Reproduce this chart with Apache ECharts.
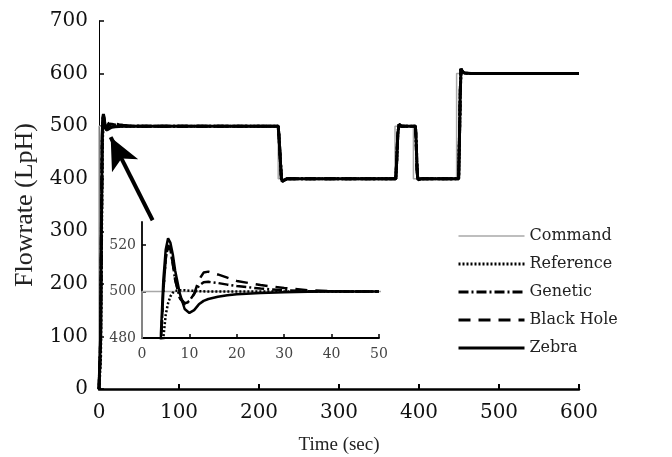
<!DOCTYPE html>
<html>
<head>
<meta charset="utf-8">
<script src="https://cdn.jsdelivr.net/npm/echarts@6/dist/echarts.min.js"></script>
<style>
  html, body { margin: 0; padding: 0; background: #fff; }
  #chart { width: 672px; height: 457px; }
</style>
</head>
<body>
<div id="chart"></div>
<script>
// command step profile
var cmdT = [0, 0, 224, 224, 370, 370, 393, 393, 447, 447, 600];
var cmdV = [0, 500, 500, 400, 400, 500, 500, 400, 400, 600, 600];

// start-up response (0..50 sec)
var earlyT = [0, 2, 3, 4, 4.5, 5, 5.5, 6, 6.5, 7, 8, 9, 10, 11, 12, 13, 14, 16, 18, 20, 25, 30, 35, 40, 45, 50];
var refEarly = [0, 60, 250, 440, 480, 490, 495, 498, 499.5, 500.3, 500.6, 500.6, 500.4, 500.3, 500.2, 500.1, 500, 500, 500, 500, 500, 500, 500, 500, 500, 500];
var genEarly = [0, 90, 290, 478, 500, 514, 520, 518, 512, 505, 497, 494.5, 496, 499, 502.5, 504, 504.2, 503.7, 503, 502.4, 501.3, 500.6, 500.2, 500.1, 500, 500];
var bhEarly = [0, 90, 290, 478, 500, 514, 520, 518, 512, 505, 497.5, 495, 495.5, 499, 505, 508.2, 508.6, 507.4, 506, 504.6, 502.8, 501.6, 500.6, 500.2, 500, 500];
var zebEarly = [0, 100, 300, 482, 505, 518, 523, 521, 516, 509, 499, 492.5, 490.8, 492, 494.5, 496, 496.8, 497.8, 498.4, 498.9, 499.4, 499.7, 499.9, 500, 500, 500];

// later step responses (all controllers look the same at full scale)
var lateT = [224, 225, 226.5, 228, 229, 231, 235, 371, 372, 373.5, 375, 376, 378, 395.5, 396.5, 397.5, 398.5, 400, 402.5, 449.5, 450.5, 451.5, 452.5, 454, 457, 465, 600];
var lateV = [500, 480, 440, 400, 395, 398, 400, 400, 430, 485, 503, 502, 500, 500, 470, 420, 398, 397, 400, 400, 470, 560, 609, 604, 601, 600, 600];

// arrow pointing at the start-up overshoot
var arrowFrom = [67, 321];
var arrowTo = [14.6, 479];

var names = ['Command', 'Reference', 'Genetic', 'Black Hole', 'Zebra'];

function pairs(t, v) {
    var out = [];
    for (var i = 0; i < t.length; i++) {
        out.push([t[i], v[i]]);
    }
    return out;
}

function full(early) {
    return pairs(earlyT.concat(lateT), early.concat(lateV));
}

var dash = {
    'Command': 'solid',
    'Reference': [2, 2],
    'Genetic': [10, 3, 2, 3],
    'Black Hole': [12, 8],
    'Zebra': 'solid'
};

var serif = 'DejaVu Serif';

var chart = echarts.init(document.getElementById('chart'));

function lineSeries(name, data, axisIdx, width, z) {
    var isCmd = name === 'Command';
    return {
        name: name,
        type: 'line',
        xAxisIndex: axisIdx,
        yAxisIndex: axisIdx,
        data: data,
        showSymbol: false,
        symbol: 'none',
        animation: false,
        z: z,
        itemStyle: { color: isCmd ? '#a8a8a8' : '#000' },
        lineStyle: { color: isCmd ? '#a8a8a8' : '#000', width: isCmd ? 1.5 : width, type: dash[name] }
    };
}

var series = [
    // inset first so the legend takes its icons from these
    lineSeries('Command', pairs(cmdT, cmdV), 1, 1.5, 2),
    lineSeries('Reference', pairs(earlyT, refEarly), 1, 2.5, 3),
    lineSeries('Genetic', pairs(earlyT, genEarly), 1, 2.5, 3),
    lineSeries('Black Hole', pairs(earlyT, bhEarly), 1, 2.5, 3),
    lineSeries('Zebra', pairs(earlyT, zebEarly), 1, 2.5, 4),
    // main plot
    lineSeries('Command', pairs(cmdT, cmdV), 0, 1.5, 2),
    lineSeries('Reference', full(refEarly), 0, 3, 3),
    lineSeries('Genetic', full(genEarly), 0, 3, 3),
    lineSeries('Black Hole', full(bhEarly), 0, 3, 3),
    lineSeries('Zebra', full(zebEarly), 0, 3, 4)
];

series[9].markLine = {
    silent: true,
    animation: false,
    symbol: ['none', 'arrow'],
    symbolSize: [22, 32],
    label: { show: false },
    lineStyle: { color: '#000', width: 4, type: 'solid' },
    data: [[{ coord: arrowFrom }, { coord: arrowTo }]]
};

var legendData = names.map(function (n) {
    return {
        name: n,
        lineStyle: { width: n === 'Command' ? 1.5 : 3 }
    };
});

var option = {
    backgroundColor: '#fff',
    animation: false,
    legend: {
        data: legendData,
        orient: 'vertical',
        left: 452,
        top: 223,
        itemWidth: 66,
        itemHeight: 14,
        itemGap: 12,
        itemStyle: { color: 'transparent', borderColor: 'transparent', borderWidth: 0, opacity: 0 },
        textStyle: { fontFamily: serif, fontSize: 16, color: '#222' },
        selectedMode: false
    },
    grid: [
        { left: 99, top: 21, right: 93, bottom: 68, outerBoundsMode: 'none' },
        { left: 142, top: 222, width: 237, height: 116, outerBoundsMode: 'none' }
    ],
    xAxis: [
        {
            gridIndex: 0,
            type: 'value',
            min: 0,
            max: 600,
            interval: 100,
            name: 'Time (sec)',
            nameLocation: 'middle',
            nameGap: 47,
            nameTextStyle: { fontFamily: 'Liberation Serif', fontSize: 19, color: '#222' },
            axisLine: { lineStyle: { color: '#000', width: 2.5 } },
            axisTick: { inside: true, length: 5, lineStyle: { color: '#000', width: 2 } },
            axisLabel: { fontFamily: serif, fontSize: 20, color: '#111', margin: 14 },
            splitLine: { show: false }
        },
        {
            gridIndex: 1,
            type: 'value',
            min: 0,
            max: 50,
            interval: 10,
            axisLine: { lineStyle: { color: '#000', width: 1.8 } },
            axisTick: { inside: true, length: 4, lineStyle: { color: '#000', width: 1.5 } },
            axisLabel: { fontFamily: serif, fontSize: 14, color: '#444', margin: 9 },
            splitLine: { show: false }
        }
    ],
    yAxis: [
        {
            gridIndex: 0,
            type: 'value',
            min: 0,
            max: 700,
            interval: 100,
            name: 'Flowrate (LpH)',
            nameLocation: 'middle',
            nameGap: 61,
            nameTextStyle: { fontFamily: 'Liberation Serif', fontSize: 26, color: '#222' },
            axisLine: { show: true, lineStyle: { color: '#000', width: 1 } },
            axisTick: { show: true, inside: true, length: 5, lineStyle: { color: '#000', width: 1.5 } },
            axisLabel: { fontFamily: serif, fontSize: 20, color: '#111', margin: 11 },
            splitLine: { show: false }
        },
        {
            gridIndex: 1,
            type: 'value',
            min: 480,
            max: 530,
            axisLine: { show: true, lineStyle: { color: '#000', width: 1.8 } },
            axisTick: { show: true, inside: true, length: 4, customValues: [480, 500, 520], lineStyle: { color: '#000', width: 1.5 } },
            axisLabel: { fontFamily: serif, fontSize: 14, color: '#444', margin: 6, customValues: [480, 500, 520] },
            splitLine: { show: false }
        }
    ],
    series: series
};

chart.setOption(option);
</script>
</body>
</html>
